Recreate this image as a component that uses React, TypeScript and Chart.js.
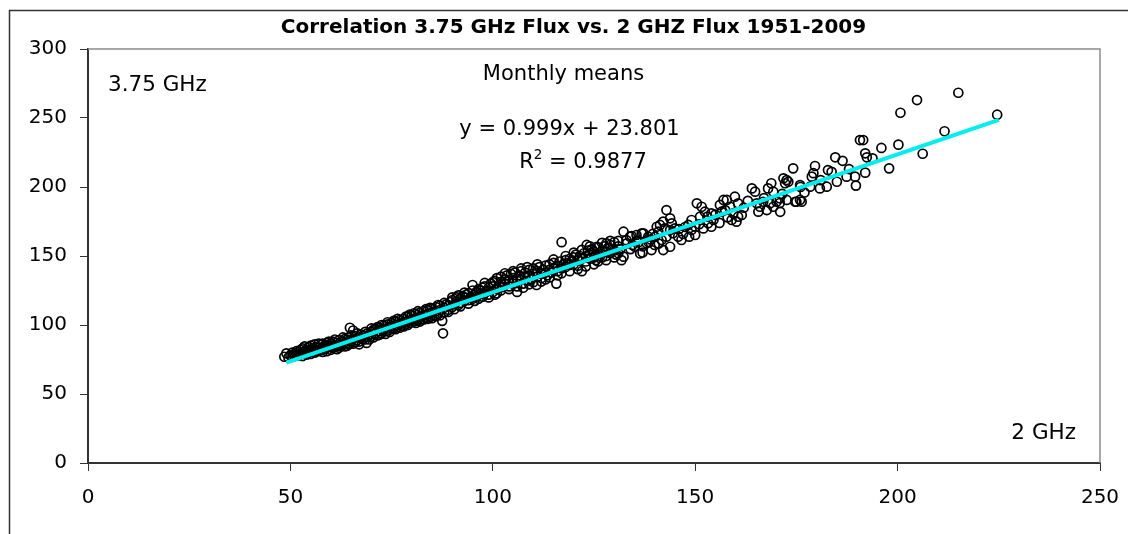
import React, { useEffect, useRef } from 'react';
import { Chart, registerables } from 'chart.js';

Chart.register(...registerables);

const TITLE = 'Correlation 3.75 GHz Flux vs. 2 GHZ Flux 1951-2009';
const yAxisLabel = '3.75 GHz';
const xAxisLabel = '2 GHz';
const subtitle = 'Monthly means';
const equationText = 'y = 0.999x + 23.801';
const r2Value = '0.9877';

const xTicks = [0, 50, 100, 150, 200, 250];
const yTicks = [0, 50, 100, 150, 200, 250, 300];

// trend line end points (x = 2 GHz flux, y = 3.75 GHz flux)
const trendX = [49, 225];
const trendY = [72.75, 248.58];

// monthly means: [2 GHz flux, 3.75 GHz flux]
const monthlyMeans: [number, number][] = [
  [48.5, 77], [49.5, 76.5], [50, 78], [50.5, 80], [51, 77.5], [51, 79], [51.5, 81], [52, 78], [52, 80.5], [52.5, 82],
  [53, 77.5], [53, 79.5], [53, 83], [53.5, 81], [54, 78.5], [54, 82], [54.5, 80], [54.5, 84], [55, 79], [55, 81.5],
  [55, 85], [55.5, 83], [56, 80], [56, 82.5], [56, 86], [56.5, 84], [57, 81], [57, 83.5], [57.5, 85.5], [57.5, 82],
  [58, 84], [58, 86.5], [58.5, 82.5], [58.5, 85], [59, 83.5], [59, 87], [59.5, 85], [60, 84], [60, 86.5], [60.5, 88],
  [60.5, 83.5], [61, 85.5], [61, 87.5], [61.5, 84.5], [62, 86], [62, 89], [62.5, 85], [62.5, 87.5], [63, 88], [63, 86],
  [63.5, 90], [63.5, 84.5], [64, 87], [64, 89.5], [64.5, 86], [64.5, 91], [64.7, 98], [65.5, 96], [65, 88.5], [65.5, 90],
  [66, 87.5], [66, 92], [66.5, 89], [67, 91], [67, 88], [67.5, 93], [68, 90], [68, 92.5], [68.5, 89.5], [68.8, 87],
  [69, 94], [69, 91.5], [69.5, 93], [70, 95], [70, 92], [70.5, 96.5], [71, 94], [71, 97], [71.5, 92.5], [72, 95.5],
  [72, 98], [72.5, 94], [73, 97], [73, 99.5], [73.5, 95.5], [74, 98], [74, 100.5], [74.5, 96.5], [75, 99], [75, 101.5],
  [75.5, 97.5], [76, 100], [76, 102.5], [76.5, 98.5], [77, 101], [77, 103.5], [77.5, 99.5], [78, 102], [78, 104.5], [78.5, 100.5],
  [79, 103], [79, 106], [79.5, 101.5], [80, 104], [80, 107], [80.5, 102.5], [81, 105], [81, 108], [81.5, 103.5], [82, 106],
  [82, 109], [82.5, 104], [83, 107], [83, 110], [83.5, 105], [84, 108], [84, 111], [84.5, 106], [85, 109], [85, 112],
  [85.5, 107], [86, 110], [86, 113], [86.5, 108], [87, 111], [87, 114], [87.5, 103], [87.7, 94], [88, 109], [88, 112.5],
  [88.5, 115], [89, 111], [89, 114], [89.5, 116.5], [90, 113], [90, 118], [90.5, 115], [91, 117], [91, 120], [91.5, 114.5],
  [92, 119], [92, 116], [92.5, 121], [93, 117.5], [93, 120], [93.5, 122], [94, 118], [94, 123], [94.5, 120], [95, 119],
  [95, 129], [95.5, 122], [96, 124], [96, 120.5], [96.5, 126], [97, 122.5], [97, 125], [97.5, 127], [98, 123], [98, 128],
  [98.5, 125], [99, 122], [99, 127], [99.5, 130], [100, 124], [100, 128], [100.5, 132], [101, 126], [101, 134], [101.5, 129],
  [102, 131], [102, 135], [102.5, 127.5], [103, 133], [103, 130], [103.5, 136], [104, 128], [104, 132], [104.5, 137], [105, 130],
  [105, 134], [105.5, 138], [106, 124], [106, 132], [106.5, 136], [107, 133], [107, 139], [107.5, 130], [108, 135], [108, 138],
  [108.5, 132], [109, 136], [109, 140], [109.5, 133], [110, 137], [110, 141], [110.8, 129], [111, 135], [111, 139], [111.5, 142],
  [112, 137], [112, 134], [112.5, 140], [113, 138], [113, 143], [113.5, 136], [114, 140], [114, 144], [114.5, 138], [115, 141],
  [115, 145], [115.7, 130], [116, 139], [116, 143], [116.5, 146], [117, 160], [117, 141], [117.5, 144], [118, 147], [118, 142],
  [118.5, 145], [119, 148], [119, 143.5], [119.5, 146], [120, 149], [120, 144], [120.5, 151], [121, 147], [121, 143], [121.5, 150],
  [122, 139], [122, 148], [122.5, 152], [123, 146], [123, 150], [123.2, 158], [123.5, 154], [124, 148], [124, 151], [124.5, 155],
  [125, 149], [125, 153], [125.5, 147], [125.7, 156.7], [126, 152], [126, 156], [126.5, 150], [127, 154], [127, 149], [127.5, 157],
  [128, 153], [128, 150], [128.1, 159.2], [128.5, 156], [129, 158], [129, 152], [129.5, 155], [130, 154], [130, 160], [130.5, 151],
  [131, 157], [131, 161], [131.5, 155], [131.8, 147], [132.3, 167.6], [132.3, 149.5], [133.1, 159.2], [133.9, 164], [134, 155], [134.3, 164.5],
  [135.1, 156.7], [135.5, 165.2], [136, 160], [136.4, 151.9], [136.8, 166.4], [137, 157], [137.2, 166.4], [138, 159.2], [138.4, 164], [139, 162],
  [139.2, 154.3], [140, 158], [140.1, 164], [140.5, 171.2], [140.9, 167.6], [141.3, 172.5], [141.7, 161.6], [142.1, 174.9], [142.1, 154.3], [142.5, 170],
  [142.9, 164], [142.9, 183.3], [143.8, 177.3], [143.8, 168.8], [143.8, 156.7], [144.2, 173.7], [145, 170], [145.8, 164], [146.6, 161.6], [147, 166],
  [148.3, 172.5], [149.1, 176.1], [149.1, 168.8], [150, 171.2], [150, 165.2], [150.4, 188.2], [151.2, 178.5], [151.6, 185.7], [152, 170], [152.4, 182.1],
  [153.2, 173.7], [154, 180.9], [154, 171.2], [154.5, 176.1], [156.1, 187], [156.5, 182.1], [157, 190.6], [157.4, 183.3], [157.8, 190.6], [158.6, 185.7],
  [159, 176.1], [159.4, 180.9], [159.8, 193], [160.2, 174.9], [160.6, 188.2], [160.6, 178.5], [161.5, 179.7], [164, 199], [164.8, 196.6], [165.2, 188.2],
  [165.6, 182.1], [166, 185.7], [166.8, 189.3], [167.7, 183.3], [168, 199], [168.5, 188.2], [168.8, 202.7], [169.3, 196.6], [169.3, 185.7], [170.1, 189.3],
  [170.9, 191.8], [170.9, 188.4], [171, 182], [171.8, 206.3], [172.2, 202.7], [172.6, 205], [172.6, 190.6], [173, 203.8], [174.2, 213.5], [174.7, 189.3],
  [175, 189.3], [175.9, 190.6], [175.9, 201.4], [176, 200], [176.3, 189.4], [178.4, 200.2], [178.8, 207.5], [179.2, 210], [179.6, 215.2], [180.8, 199],
  [182.5, 200.2], [182.8, 212.3], [183.7, 211], [184.6, 221.5], [185, 203.8], [186.4, 219], [187.4, 207.5], [189.5, 207.5], [189.7, 201], [190.7, 234],
  [191.5, 234], [192, 224.4], [192.4, 221.5], [192, 210.4], [193.8, 220.8], [196, 228.3], [197.9, 213.5], [200.2, 230.7], [200.7, 253.8], [204.8, 263],
  [206.2, 224.1], [211.6, 240.4], [215, 268.3], [224.6, 252.4],
  [49, 79.5], [50.5, 77], [51.5, 78.5], [52.5, 79], [53.5, 84.5], [54, 80.5], [55.5, 80.5], [56.5, 81.5], [57, 86.5], [58, 80.5],
  [59, 81], [59.5, 88], [60, 82], [61, 89.5], [61.5, 82.5], [62, 83.5], [63, 91], [64, 85], [65, 92.5], [65.5, 86.5],
  [66.5, 94], [67, 86], [67.5, 90.5], [68.5, 95], [69.5, 89.5], [70, 97.5], [70.5, 91], [71.5, 98.5], [72, 93], [72.5, 100],
  [73.5, 93.5], [74, 102], [74.5, 95], [75.5, 103], [76, 97], [76.5, 104.5], [77, 98], [78, 99], [78.5, 106], [79, 100],
  [79.5, 107.5], [80.5, 108.5], [81, 101.5], [81.5, 110], [82, 102.5], [83, 104], [83.5, 111.5], [84, 104.5], [84.5, 112.5], [85, 105],
  [86, 106.5], [86.5, 114.5], [87, 107], [88, 116], [89, 109.5], [90, 120], [90.5, 111.5], [91.5, 121.5], [92, 113.5], [93, 123.5],
  [94, 115.5], [95, 125], [95.5, 117.5], [96.5, 119], [97.5, 120.5], [98, 130.5], [99, 120], [100, 131], [100.5, 122], [101, 123],
  [102, 125], [103, 137.5], [104, 126], [105, 139], [106, 128], [107, 141], [107.5, 127], [108.5, 142], [109, 129.5], [110, 131],
  [111, 144], [112, 131.5], [113, 133], [114, 134.5], [115, 147.5], [116, 136], [117, 137.5], [118, 150], [119, 139], [120, 152.5],
  [121, 140.5], [122, 154.5], [123, 142.5], [124, 157], [125, 144], [126, 146], [127, 159.5], [128, 147], [129, 161], [130, 149],
  [131, 152], [133, 161.5], [134.5, 158], [135.5, 161], [137, 152.5], [138.5, 160], [139.5, 166], [141, 159], [144.5, 166.5], [146, 169.5],
  [147.5, 171], [148.5, 164], [151, 173], [153, 178.5], [155, 180], [156, 174], [158, 178], [162, 185], [163, 190], [167, 192],
  [171.5, 195], [177, 196], [181, 205], [188, 213],
];

const FONT = '"DejaVu Sans", "Liberation Sans", Arial, sans-serif';

export default function App() {
  const ref = useRef<HTMLCanvasElement | null>(null);

  useEffect(() => {
    if (!ref.current) return;

    const decorations = {
      id: 'decorations',
      afterDraw(chart: any) {
        const ctx = chart.ctx as CanvasRenderingContext2D;
        const a = chart.chartArea;
        ctx.save();
        // outer frame
        ctx.strokeStyle = '#333';
        ctx.lineWidth = 1.5;
        ctx.beginPath();
        ctx.moveTo(9.5, 534);
        ctx.lineTo(9.5, 10.5);
        ctx.lineTo(1128, 10.5);
        ctx.stroke();
        // plot area top/right border
        ctx.strokeStyle = '#8c8c8c';
        ctx.lineWidth = 1.5;
        ctx.beginPath();
        ctx.moveTo(a.left, a.top);
        ctx.lineTo(a.right, a.top);
        ctx.lineTo(a.right, a.bottom);
        ctx.stroke();

        ctx.fillStyle = '#000';
        ctx.textBaseline = 'alphabetic';
        ctx.font = `bold 20px ${FONT}`;
        ctx.textAlign = 'center';
        ctx.fillText(TITLE, 573.5, 33);

        ctx.font = `21.5px ${FONT}`;
        ctx.textAlign = 'left';
        ctx.fillText(yAxisLabel, 108, 91);
        ctx.textAlign = 'right';
        ctx.fillText(xAxisLabel, 1076, 439);

        ctx.font = `21px ${FONT}`;
        ctx.textAlign = 'center';
        ctx.fillText(subtitle, 563.5, 80);
        ctx.fillText(equationText, 569.5, 135);

        // R^2 line
        const rest = ' = ' + r2Value;
        const wR = ctx.measureText('R').width;
        const wRest = ctx.measureText(rest).width;
        ctx.font = `13.5px ${FONT}`;
        const wSup = ctx.measureText('2').width;
        const total = wR + wSup + wRest;
        const x0 = 583 - total / 2;
        ctx.textAlign = 'left';
        ctx.font = `21px ${FONT}`;
        ctx.fillText('R', x0, 168);
        ctx.font = `13.5px ${FONT}`;
        ctx.fillText('2', x0 + wR, 159);
        ctx.font = `21px ${FONT}`;
        ctx.fillText(rest, x0 + wR + wSup, 168);
        ctx.restore();
      },
    };

    const chart = new Chart(ref.current, {
      type: 'scatter',
      data: {
        datasets: [
          {
            type: 'line',
            label: 'Trend',
            data: trendX.map((x, i) => ({ x, y: trendY[i] })),
            borderColor: '#00EEEE',
            borderWidth: 4,
            pointRadius: 0,
            fill: false,
            order: 0,
          } as any,
          {
            label: 'Monthly means',
            data: monthlyMeans.map(([x, y]) => ({ x, y })),
            pointRadius: 4.5,
            pointBorderWidth: 1.7,
            pointBorderColor: '#000',
            pointBackgroundColor: 'rgba(0,0,0,0)',
            borderColor: '#000',
            backgroundColor: 'rgba(0,0,0,0)',
            showLine: false,
            order: 1,
          } as any,
        ],
      },
      options: {
        animation: false,
        responsive: true,
        maintainAspectRatio: false,
        layout: { padding: { left: 0, top: 49, right: 28, bottom: 0 } },
        plugins: {
          legend: { display: false },
          tooltip: { enabled: false },
          title: { display: false },
        },
        scales: {
          x: {
            type: 'linear',
            min: 0,
            max: 250,
            afterBuildTicks: (s: any) => { s.ticks = xTicks.map((v) => ({ value: v })); },
            afterFit: (s: any) => {
              s.height = 71;
              s.paddingLeft = 0; s.paddingRight = 0; s.paddingTop = 0; s.paddingBottom = 0;
            },
            ticks: { color: '#000', padding: 15, font: { family: FONT, size: 20 } },
            grid: { drawOnChartArea: false, tickLength: 8, color: '#333', lineWidth: 1 },
            border: { color: '#333', width: 2 },
          },
          y: {
            type: 'linear',
            min: 0,
            max: 300,
            afterBuildTicks: (s: any) => { s.ticks = yTicks.map((v) => ({ value: v })); },
            afterFit: (s: any) => {
              s.width = 88;
              s.paddingLeft = 0; s.paddingRight = 0; s.paddingTop = 0; s.paddingBottom = 0;
            },
            ticks: { color: '#000', padding: 13, font: { family: FONT, size: 20 } },
            grid: { drawOnChartArea: false, tickLength: 8, color: '#333', lineWidth: 1 },
            border: { color: '#333', width: 2 },
          },
        },
      },
      plugins: [decorations],
    });
    return () => chart.destroy();
  }, []);

  return (
    <div style={{ position: 'absolute', left: 0, top: 0, width: 1128, height: 534, background: '#fff' }}>
      <canvas ref={ref} />
    </div>
  );
}
